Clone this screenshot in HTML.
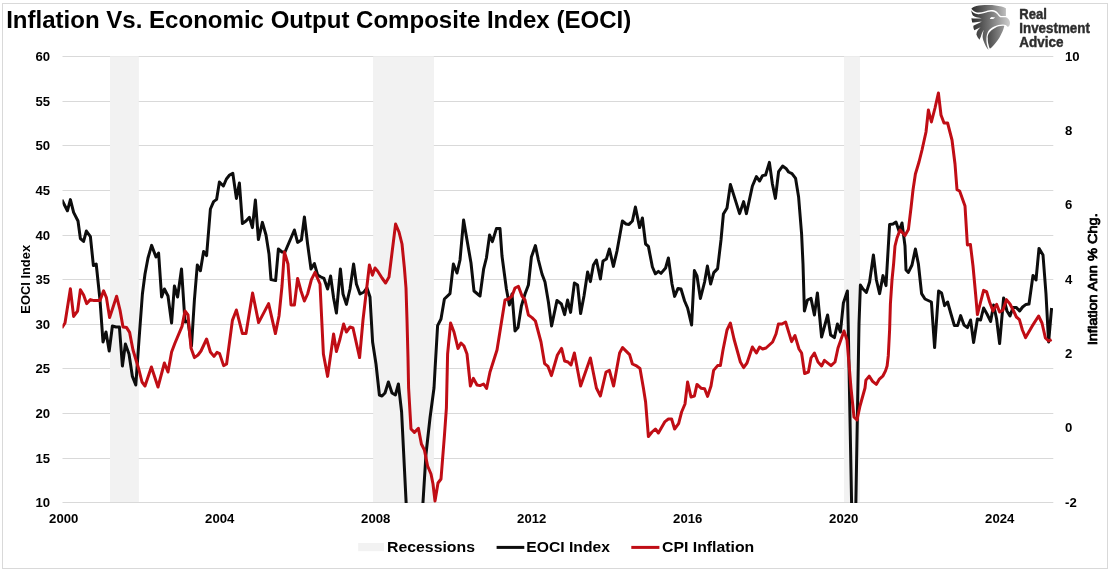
<!DOCTYPE html>
<html lang="en">
<head>
<meta charset="utf-8">
<title>Inflation Vs. Economic Output Composite Index (EOCI)</title>
<style>
html,body{margin:0;padding:0;background:#fff;}
body{width:1110px;height:573px;overflow:hidden;font-family:"Liberation Sans",sans-serif;}
svg{display:block;}
text{font-family:"Liberation Sans",sans-serif;font-weight:bold;fill:#000;}
.ax{font-size:13.3px;}
.lg{font-size:15.3px;}
.logo{fill:#2d2d2d;font-size:15.3px;stroke:#2d2d2d;stroke-width:0.45px;stroke-linejoin:round;}
</style>
</head>
<body>
<svg width="1110" height="573" viewBox="0 0 1110 573">
<defs>
<clipPath id="plot"><rect x="62.5" y="54.3" width="990.8" height="448.6"/></clipPath>
<linearGradient id="lg1" gradientUnits="userSpaceOnUse" x1="971" y1="0" x2="1010" y2="0">
<stop offset="0" stop-color="#2b2b2b"/><stop offset="0.5" stop-color="#777"/><stop offset="1" stop-color="#cfcfcf"/>
</linearGradient>
<linearGradient id="lg2" gradientUnits="userSpaceOnUse" x1="988" y1="0" x2="1005" y2="0">
<stop offset="0" stop-color="#4a4a4a"/><stop offset="1" stop-color="#9a9a9a"/>
</linearGradient>
</defs>
<rect x="0" y="0" width="1110" height="573" fill="#fff"/>
<rect x="2.5" y="3.5" width="1105" height="565" fill="#fff" stroke="#d9d9d9" stroke-width="1"/>
<text x="6.2" y="27.8" font-size="23" textLength="625" lengthAdjust="spacingAndGlyphs">Inflation Vs. Economic Output Composite Index (EOCI)</text>
<rect x="110" y="56.3" width="28.7" height="446.0" fill="#f2f2f2"/>
<rect x="373.2" y="56.3" width="60.6" height="446.0" fill="#f2f2f2"/>
<rect x="844.1" y="56.3" width="15.7" height="446.0" fill="#f2f2f2"/>
<line x1="62.5" x2="1053.3" y1="56.5" y2="56.5" stroke="#d9d9d9" stroke-width="1"/>
<line x1="62.5" x2="1053.3" y1="101.5" y2="101.5" stroke="#d9d9d9" stroke-width="1"/>
<line x1="62.5" x2="1053.3" y1="145.5" y2="145.5" stroke="#d9d9d9" stroke-width="1"/>
<line x1="62.5" x2="1053.3" y1="190.5" y2="190.5" stroke="#d9d9d9" stroke-width="1"/>
<line x1="62.5" x2="1053.3" y1="235.5" y2="235.5" stroke="#d9d9d9" stroke-width="1"/>
<line x1="62.5" x2="1053.3" y1="279.5" y2="279.5" stroke="#d9d9d9" stroke-width="1"/>
<line x1="62.5" x2="1053.3" y1="324.5" y2="324.5" stroke="#d9d9d9" stroke-width="1"/>
<line x1="62.5" x2="1053.3" y1="368.5" y2="368.5" stroke="#d9d9d9" stroke-width="1"/>
<line x1="62.5" x2="1053.3" y1="413.5" y2="413.5" stroke="#d9d9d9" stroke-width="1"/>
<line x1="62.5" x2="1053.3" y1="458.5" y2="458.5" stroke="#d9d9d9" stroke-width="1"/>
<line x1="62.5" x2="1053.3" y1="502.5" y2="502.5" stroke="#d9d9d9" stroke-width="1"/>
<rect x="110" y="56.3" width="28.7" height="445.5" fill="#f2f2f2"/>
<rect x="373.2" y="56.3" width="60.6" height="445.5" fill="#f2f2f2"/>
<rect x="844.1" y="56.3" width="15.7" height="445.5" fill="#f2f2f2"/>
<text class="ax" x="0" y="0" text-anchor="end" transform="translate(50.2 60.8) scale(0.99 1)">60</text>
<text class="ax" x="0" y="0" text-anchor="end" transform="translate(50.2 105.8) scale(0.99 1)">55</text>
<text class="ax" x="0" y="0" text-anchor="end" transform="translate(50.2 149.8) scale(0.99 1)">50</text>
<text class="ax" x="0" y="0" text-anchor="end" transform="translate(50.2 194.8) scale(0.99 1)">45</text>
<text class="ax" x="0" y="0" text-anchor="end" transform="translate(50.2 239.8) scale(0.99 1)">40</text>
<text class="ax" x="0" y="0" text-anchor="end" transform="translate(50.2 283.8) scale(0.99 1)">35</text>
<text class="ax" x="0" y="0" text-anchor="end" transform="translate(50.2 328.8) scale(0.99 1)">30</text>
<text class="ax" x="0" y="0" text-anchor="end" transform="translate(50.2 372.8) scale(0.99 1)">25</text>
<text class="ax" x="0" y="0" text-anchor="end" transform="translate(50.2 417.8) scale(0.99 1)">20</text>
<text class="ax" x="0" y="0" text-anchor="end" transform="translate(50.2 462.8) scale(0.99 1)">15</text>
<text class="ax" x="0" y="0" text-anchor="end" transform="translate(50.2 506.8) scale(0.99 1)">10</text>
<text class="ax" x="0" y="0" transform="translate(1065 60.6) scale(0.99 1)">10</text>
<text class="ax" x="0" y="0" transform="translate(1065 134.9) scale(0.99 1)">8</text>
<text class="ax" x="0" y="0" transform="translate(1065 209.3) scale(0.99 1)">6</text>
<text class="ax" x="0" y="0" transform="translate(1065 283.6) scale(0.99 1)">4</text>
<text class="ax" x="0" y="0" transform="translate(1065 357.9) scale(0.99 1)">2</text>
<text class="ax" x="0" y="0" transform="translate(1065 432.3) scale(0.99 1)">0</text>
<text class="ax" x="0" y="0" transform="translate(1065 506.6) scale(0.99 1)">-2</text>
<text class="ax" x="0" y="0" text-anchor="middle" transform="translate(63.7 522.9) scale(0.99 1)">2000</text>
<text class="ax" x="0" y="0" text-anchor="middle" transform="translate(219.7 522.9) scale(0.99 1)">2004</text>
<text class="ax" x="0" y="0" text-anchor="middle" transform="translate(375.7 522.9) scale(0.99 1)">2008</text>
<text class="ax" x="0" y="0" text-anchor="middle" transform="translate(531.7 522.9) scale(0.99 1)">2012</text>
<text class="ax" x="0" y="0" text-anchor="middle" transform="translate(687.7 522.9) scale(0.99 1)">2016</text>
<text class="ax" x="0" y="0" text-anchor="middle" transform="translate(843.7 522.9) scale(0.99 1)">2020</text>
<text class="ax" x="0" y="0" text-anchor="middle" transform="translate(999.7 522.9) scale(0.99 1)">2024</text>
<text class="ax" transform="translate(30.1 279.3) rotate(-90) scale(0.97 1)" text-anchor="middle">EOCI Index</text>
<text class="ax" transform="translate(1096.8 345.3) rotate(-90)" font-size="13.6" style="font-weight:normal" stroke="#000" stroke-width="0.85" stroke-linejoin="round" textLength="132" lengthAdjust="spacingAndGlyphs">Inflation Ann % Chg.</text>
<g clip-path="url(#plot)" fill="none" stroke-linejoin="round" stroke-linecap="butt">
<path d="M61.8,199.8 L67.4,210.8 L70.4,199.6 L73.6,212.4 L78.0,221.0 L80.4,238.6 L83.6,241.4 L86.4,231.0 L90.4,236.6 L93.4,265.6 L96.2,264.0 L100.0,300.0 L103.0,342.0 L106.0,332.0 L109.2,351.0 L112.4,326.0 L116.0,327.0 L119.4,327.0 L122.4,366.0 L125.4,344.0 L129.0,354.0 L132.4,376.4 L135.8,385.0 L139.0,340.0 L142.4,294.0 L145.0,274.0 L148.0,258.0 L151.6,245.4 L156.0,257.0 L158.6,253.0 L161.6,297.0 L164.4,289.0 L168.0,296.0 L171.6,323.0 L174.4,286.0 L177.6,297.0 L181.5,268.9 L185.0,322.0 L188.0,321.0 L191.5,346.0 L194.4,300.0 L197.3,265.0 L200.4,270.8 L203.6,251.4 L206.6,255.6 L210.4,209.0 L213.6,201.6 L216.6,199.4 L219.4,182.0 L223.4,186.0 L226.4,179.0 L229.6,175.0 L232.8,173.2 L236.4,198.4 L239.4,183.0 L242.4,223.6 L246.0,221.0 L249.4,217.4 L252.4,227.6 L255.4,200.0 L258.4,239.6 L262.4,222.4 L266.0,235.0 L269.0,254.0 L271.0,279.6 L275.6,280.6 L278.4,249.0 L282.0,252.0 L285.0,252.0 L294.4,230.0 L297.6,242.4 L301.4,240.0 L304.4,217.0 L307.6,244.0 L311.0,269.0 L314.4,263.6 L317.6,275.0 L321.0,277.0 L324.0,278.4 L327.6,289.0 L330.6,276.0 L333.6,298.0 L336.4,313.0 L340.4,269.0 L343.0,294.0 L346.4,304.4 L350.0,289.0 L353.6,264.0 L356.4,284.0 L360.0,294.0 L364.0,292.0 L367.0,288.0 L370.0,297.0 L372.6,342.0 L376.0,364.0 L379.4,395.0 L382.0,396.0 L385.0,393.0 L388.4,382.0 L392.0,393.0 L395.4,395.0 L398.4,384.0 L401.6,412.0 L404.4,468.0 L406.8,516.0 L422.0,516.0 L423.0,502.0 L426.0,454.0 L430.0,418.0 L434.0,388.0 L435.0,370.0 L437.6,325.6 L441.0,319.0 L444.4,299.0 L450.0,293.6 L453.4,264.0 L457.0,273.0 L460.0,260.0 L463.6,220.0 L467.0,240.0 L471.0,263.0 L474.0,291.0 L480.0,296.0 L483.6,269.2 L486.4,258.0 L489.6,235.0 L492.4,241.6 L496.4,228.6 L500.0,228.6 L502.0,256.0 L506.4,289.0 L509.4,305.0 L512.0,294.0 L515.0,331.0 L518.0,327.6 L521.4,306.0 L525.0,294.0 L528.4,285.0 L531.4,257.0 L535.4,245.6 L538.4,260.0 L542.0,274.0 L545.0,282.0 L548.4,302.0 L551.6,326.0 L557.0,300.4 L561.4,304.0 L564.6,314.6 L567.6,300.0 L570.6,312.4 L574.4,283.0 L577.6,285.0 L580.6,313.6 L584.0,296.0 L587.6,272.0 L590.4,281.6 L593.4,265.0 L596.4,260.0 L600.4,279.0 L603.0,261.0 L606.4,259.0 L609.4,249.0 L613.4,266.4 L617.0,251.0 L622.4,221.0 L626.0,224.0 L629.0,224.4 L632.4,221.0 L635.4,207.0 L639.6,227.6 L642.4,218.0 L645.6,244.0 L648.4,246.4 L652.4,267.0 L655.4,273.8 L658.4,271.4 L661.0,273.4 L665.6,268.0 L668.4,258.0 L672.0,284.0 L674.6,296.4 L678.0,288.4 L681.0,289.0 L684.6,301.0 L687.6,308.0 L691.6,325.0 L694.4,270.6 L697.0,276.0 L700.4,298.4 L704.6,282.0 L707.4,266.0 L710.6,284.0 L713.8,272.6 L717.6,268.6 L721.0,240.0 L723.4,214.0 L727.0,208.0 L730.4,184.4 L739.6,213.6 L743.6,201.6 L746.4,213.6 L752.4,186.0 L756.4,176.6 L759.6,181.0 L762.6,175.6 L765.6,175.0 L769.4,162.4 L772.4,184.0 L775.4,198.4 L778.6,171.6 L782.6,166.0 L786.0,168.4 L788.6,172.0 L792.0,173.6 L795.6,178.4 L798.6,197.0 L801.6,234.0 L803.0,264.0 L804.4,311.0 L807.4,300.0 L811.0,298.4 L814.4,315.0 L817.4,293.0 L821.6,337.0 L827.6,315.0 L830.6,335.0 L834.4,337.6 L837.4,324.0 L840.4,332.0 L843.4,303.0 L847.4,291.0 L848.2,324.0 L852.0,524.0 L855.5,524.0 L859.0,324.0 L860.4,285.0 L863.0,289.0 L866.4,292.4 L869.6,282.0 L873.4,255.0 L876.4,280.0 L879.6,293.6 L883.0,275.6 L886.0,285.6 L889.6,224.6 L893.0,224.0 L896.0,222.0 L899.0,231.0 L902.0,223.0 L905.0,246.0 L906.0,270.0 L908.4,272.4 L912.0,265.0 L915.4,249.0 L918.4,264.0 L921.6,293.6 L925.0,299.0 L931.4,302.0 L934.6,347.6 L938.6,291.0 L941.6,293.0 L944.6,305.6 L947.6,302.0 L951.0,314.0 L954.4,325.6 L957.6,325.6 L960.6,315.6 L964.0,325.0 L967.4,327.6 L970.6,320.0 L973.6,342.6 L977.4,319.0 L980.6,320.0 L983.6,308.0 L987.0,314.0 L990.6,321.4 L993.6,305.0 L996.6,319.0 L999.6,343.6 L1003.6,298.0 L1007.0,311.0 L1010.0,316.0 L1013.0,307.6 L1016.4,307.6 L1019.6,311.0 L1022.6,307.0 L1026.0,304.4 L1029.0,304.0 L1033.0,275.4 L1036.0,280.0 L1039.0,248.4 L1043.0,255.0 L1046.0,294.0 L1048.6,342.0 L1051.6,308.0" stroke="#0d0d0d" stroke-width="3"/>
<path d="M61.8,328.0 L65.0,323.0 L70.4,288.8 L73.6,316.4 L77.6,311.0 L80.4,289.8 L83.6,295.0 L86.6,303.6 L90.4,299.6 L94.0,300.6 L100.0,300.6 L103.6,290.8 L106.4,297.6 L109.6,317.6 L116.6,296.2 L120.0,310.0 L123.0,327.0 L126.6,327.6 L129.6,332.4 L133.0,350.0 L136.0,360.0 L139.0,370.0 L142.0,382.0 L145.0,386.0 L151.4,367.0 L158.0,387.0 L164.4,363.0 L168.0,372.0 L171.6,352.0 L175.0,343.0 L182.0,326.4 L185.0,311.0 L188.0,315.0 L191.0,348.0 L194.4,357.6 L198.0,355.0 L201.0,351.0 L206.6,339.0 L210.4,352.0 L214.0,356.4 L217.0,352.4 L219.6,353.6 L223.6,365.6 L226.6,364.0 L232.4,320.4 L236.4,310.0 L242.4,333.6 L246.0,333.6 L252.6,293.0 L258.6,322.6 L268.6,303.6 L275.4,333.6 L279.0,316.0 L282.0,286.0 L284.4,252.0 L288.0,264.0 L291.0,305.0 L294.4,305.0 L297.6,278.4 L301.0,291.0 L304.4,301.0 L307.6,294.0 L311.4,279.6 L315.0,272.4 L320.0,284.0 L323.4,354.0 L327.6,376.4 L333.6,334.0 L336.4,351.6 L340.0,339.0 L343.6,324.0 L346.4,332.0 L350.0,327.0 L353.0,328.0 L359.6,357.6 L363.0,320.0 L369.4,265.0 L372.4,275.2 L375.0,268.0 L377.6,271.0 L382.0,278.0 L385.6,283.0 L389.0,277.0 L395.6,224.0 L399.0,232.0 L402.0,244.0 L404.4,268.0 L406.0,288.0 L407.0,320.0 L408.0,358.0 L408.6,388.0 L411.0,429.0 L414.4,432.4 L418.4,428.4 L421.4,444.0 L424.4,450.0 L427.6,466.0 L431.0,474.0 L433.0,484.0 L435.0,501.0 L438.0,483.0 L441.0,479.0 L444.4,436.0 L446.4,408.0 L447.6,354.0 L450.6,323.0 L454.0,332.0 L458.0,348.4 L461.0,343.0 L464.0,346.0 L467.0,354.0 L470.4,386.0 L473.4,378.4 L477.0,385.0 L480.0,385.6 L483.6,384.0 L486.6,388.4 L490.0,372.0 L497.0,350.0 L505.0,300.0 L508.4,299.0 L512.0,296.0 L515.0,288.0 L518.4,286.4 L522.0,296.0 L525.0,300.0 L528.4,315.0 L532.0,317.6 L535.4,321.0 L541.0,342.0 L544.6,363.6 L548.0,366.4 L551.4,375.6 L557.4,355.0 L561.6,348.4 L564.6,361.0 L568.0,362.0 L571.0,365.0 L574.4,353.0 L580.6,386.0 L590.4,358.0 L596.4,388.0 L600.4,396.0 L606.0,372.0 L609.4,370.4 L613.6,386.0 L619.6,353.0 L622.6,347.6 L629.6,354.6 L632.4,364.0 L636.0,365.6 L640.0,368.4 L643.4,388.0 L645.6,402.0 L648.4,436.6 L652.0,432.0 L655.4,429.0 L658.4,433.0 L665.0,421.6 L668.4,419.0 L671.6,419.0 L674.6,429.0 L678.6,423.6 L681.6,412.0 L685.0,404.0 L687.6,382.0 L691.0,397.0 L694.4,396.0 L697.0,384.4 L701.0,388.2 L704.6,388.8 L707.6,396.4 L711.0,386.0 L713.6,370.4 L717.6,365.6 L720.4,365.6 L723.0,350.0 L727.0,330.0 L730.4,323.0 L734.0,339.0 L740.4,362.0 L743.6,367.6 L747.0,363.0 L752.4,347.0 L756.4,353.0 L759.6,347.0 L762.6,349.0 L766.0,348.0 L772.6,342.0 L776.0,334.0 L778.4,324.0 L782.0,324.0 L785.6,322.0 L791.6,341.6 L795.0,335.6 L799.0,349.0 L801.6,353.0 L804.6,373.6 L808.4,372.0 L811.0,358.0 L814.4,353.0 L818.0,362.0 L821.6,366.0 L824.4,360.4 L831.0,365.6 L835.0,362.0 L838.0,348.0 L844.0,331.0 L847.0,340.0 L849.0,364.0 L851.0,388.0 L854.0,417.0 L857.0,420.0 L860.0,406.0 L865.0,388.0 L865.9,380.1 L869.2,376.2 L872.6,381.3 L876.3,384.4 L879.4,379.1 L883.0,375.8 L885.5,370.9 L887.1,366.0 L888.3,355.7 L889.6,330.0 L890.4,304.0 L892.0,280.0 L893.6,264.0 L895.0,246.0 L897.0,238.0 L900.0,230.0 L905.0,235.6 L908.4,229.6 L911.0,208.0 L913.0,190.0 L915.4,174.0 L919.0,162.0 L922.0,150.0 L926.0,132.0 L928.4,110.0 L931.4,122.0 L935.0,108.0 L938.4,93.0 L941.0,115.0 L944.0,123.0 L947.6,123.0 L952.0,140.0 L955.0,164.0 L957.0,189.6 L959.6,191.0 L960.0,192.0 L965.0,206.0 L967.4,245.0 L970.4,244.4 L973.0,266.0 L975.6,294.0 L977.4,314.6 L980.6,302.0 L983.6,290.4 L986.6,291.6 L989.6,302.0 L993.0,311.0 L996.6,304.4 L999.6,312.0 L1003.0,310.0 L1006.4,299.6 L1010.0,304.0 L1013.6,311.0 L1016.4,317.0 L1019.4,319.6 L1022.4,330.0 L1025.6,337.6 L1032.0,326.4 L1038.6,316.0 L1042.0,323.0 L1045.4,338.0 L1048.6,341.0 L1051.6,339.6" stroke="#c00d15" stroke-width="3"/>
</g>
<rect x="358.2" y="543" width="25.8" height="8.2" fill="#f2f2f2"/>
<text class="lg" x="387" y="551.8" textLength="88" lengthAdjust="spacingAndGlyphs">Recessions</text>
<line x1="496.6" x2="524.3" y1="547.4" y2="547.4" stroke="#0d0d0d" stroke-width="3"/>
<text class="lg" x="526.3" y="551.8" textLength="83.6" lengthAdjust="spacingAndGlyphs">EOCI Index</text>
<line x1="631.3" x2="659.4" y1="547.4" y2="547.4" stroke="#c00d15" stroke-width="3"/>
<text class="lg" x="662" y="551.8" textLength="92.2" lengthAdjust="spacingAndGlyphs">CPI Inflation</text>
<g id="logo">
<path d="M971.35,8.7 C972.6,7.6 974.4,6.7 976.4,6.1 C980.3,5.2 984.6,4.9 989,5 C993.3,5 997.6,5.6 1001.5,6.5 C1003.1,6.9 1004.6,7.5 1005.9,8.2 L1005.9,16.1 L1000.8,15.9 C999.9,15.4 999.1,14.4 998.2,13.2 C997.2,11.9 996.2,11.1 994.8,10.6 C993.6,10.2 992.4,10.1 991,10.1 C988.8,10.3 986.8,10.9 984.8,11.5 C982.7,12.1 980.7,12.6 978.5,12.6 C976.5,12.6 974.8,11.8 973.4,10.7 C972.6,10.1 971.9,9.4 971.35,8.7 Z" fill="url(#lg1)"/>
<path d="M971.3,10.3 C972.3,12.3 975,14.3 978.5,14.2 C982,14.1 987,12 991,11.6 C994,11.4 996.4,13.1 997.6,14.6 C998.6,15.9 999.4,16.9 1000.2,17.3 L1005.7,17.3 C1007.5,17.6 1010,20 1010,23 C1010,25 1009.3,26.3 1007.9,27 C1006.8,25.3 1005,24.5 1002.8,24.5 C997,24.5 990.5,27.5 988.1,31.4 C986,35.5 985.6,42 988.5,49.4 L988.1,49.5 C986.5,47.5 985.5,45.8 984.8,44 C983.5,41 982.6,38.5 982.6,36.5 C982.7,34 983.1,32 983.8,29.8 C982.4,32.3 981.4,34.6 980.9,36.5 L979.5,39.8 C978,38 977,36.2 976.4,34.4 C976.5,33 977,31.8 977.6,30.6 C978.5,29.3 979.5,28.2 980.6,27.3 C978.5,28.3 976.3,29.4 974.3,30.2 C973.6,28.8 973.2,27.4 973.4,25.8 C976,24.8 979,23.2 981.8,21.6 C978.5,22.2 975,22.6 972.2,22.4 C971.9,21 971.6,19.5 971.4,18.3 C975,18.6 978.5,18.5 981.8,18.2 C978,17.8 974.5,17.3 972.9,15.6 C972,14 971.4,12 971.3,10.3 Z" fill="url(#lg1)"/>
<path d="M1004.3,25.9 C1001,25.6 998,26.3 995.4,27.7 C992.3,29.3 990.2,31.1 989,33 C987.7,35.2 987.5,37 987.8,38.6 C987.7,41 988,43 988.6,44.9 C988.9,46.3 989.3,47.5 989.8,48.5 C990.4,48.3 990.9,47.9 991.5,47.4 C993.5,45.5 995.6,43 997.3,40.7 C999,38.5 1000.5,36 1001.5,33.5 C1002.8,31 1003.8,28.5 1004.3,25.7 Z" fill="url(#lg2)"/>
<path d="M989.9,18.2 L991.6,17.1 L995.2,17.4 L993.2,18.9 L990.3,19 Z" fill="#fff"/>
<text class="logo" x="1019.3" y="19.2" textLength="27.6" lengthAdjust="spacingAndGlyphs">Real</text>
<text class="logo" x="1019.3" y="33.4" textLength="70.6" lengthAdjust="spacingAndGlyphs">Investment</text>
<text class="logo" x="1019.3" y="47.1" textLength="44.2" lengthAdjust="spacingAndGlyphs">Advice</text>
</g>
</svg>
</body>
</html>
